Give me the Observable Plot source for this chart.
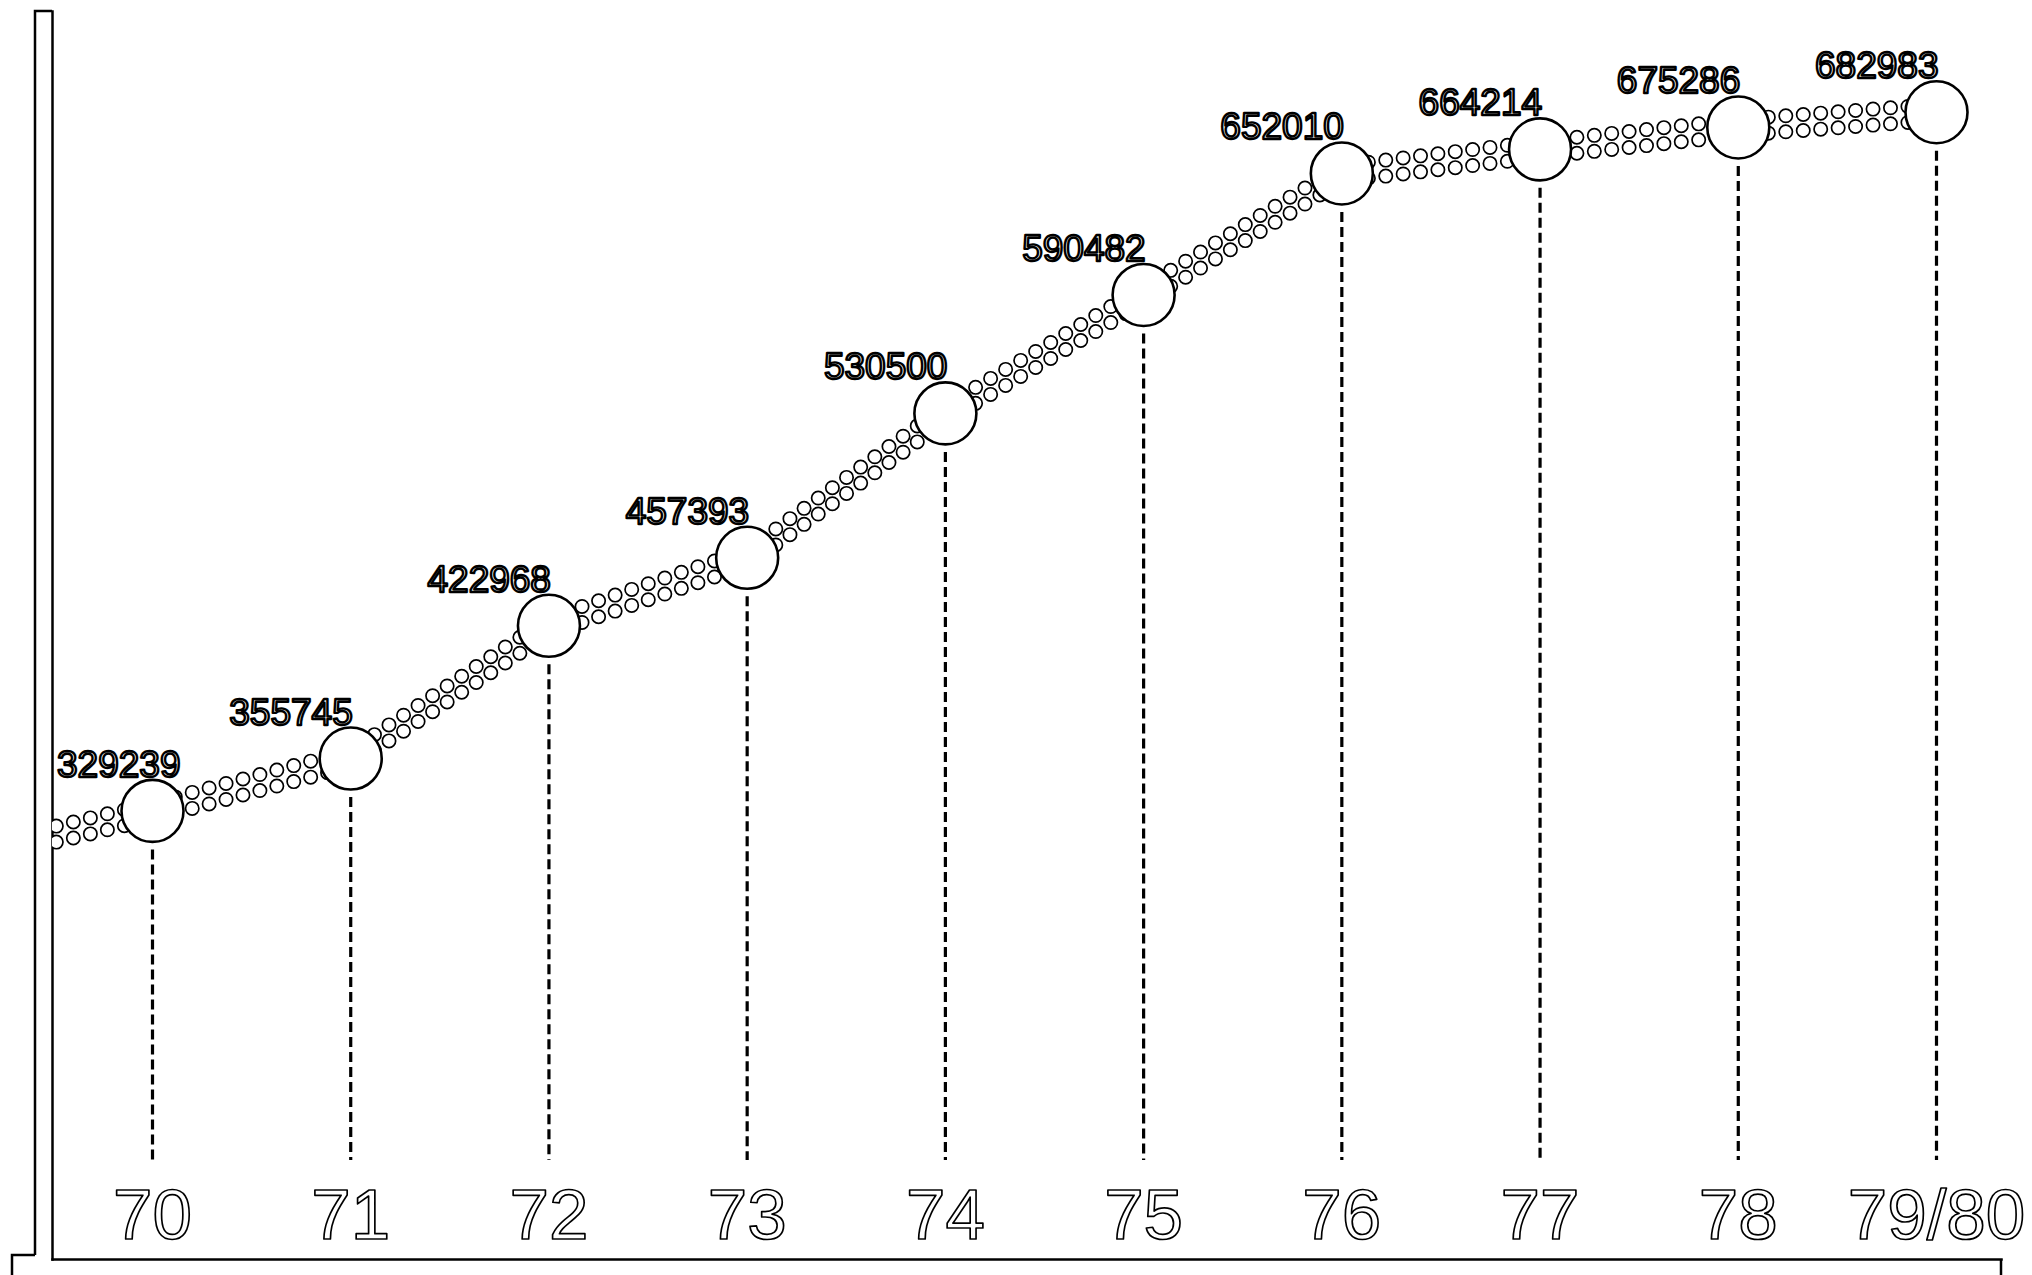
<!DOCTYPE html>
<html><head><meta charset="utf-8">
<script src="https://cdn.jsdelivr.net/npm/d3@7"></script>
<script src="https://cdn.jsdelivr.net/npm/@observablehq/plot@0.6"></script>
<style>html,body{margin:0;padding:0;background:#fff;} svg{display:block;}</style>
</head><body><div id="chart"></div>
<script>
const years = ["70","71","72","73","74","75","76","77","78","79/80"];
const values = [329239,355745,422968,457393,530500,590482,652010,664214,675286,682983];
// the dotted trend enters from the left frame edge (year before 70, cut off)
const leadInValue = 305000;
const yDomain = [102100, 734000];

const points = years.map((year, i) => ({i, year, value: values[i]}));
const trend = [{i: -1, value: leadInValue}, ...points];

const W = 2032, H = 1275;
const mL = 52, mR = 31, mT = 11, mB = 16;
const FONT = "Liberation Sans, Arial, Helvetica, sans-serif";

const ringRow = (dy, color, sw) => Plot.line(trend, {
  x: "i", y: "value", dy, stroke: color, strokeWidth: sw,
  strokeDasharray: "0 17.5", strokeLinecap: "round", clip: true
});

const plot = Plot.plot({
  width: W, height: H,
  marginLeft: mL, marginRight: mR, marginTop: mT, marginBottom: mB,
  x: {domain: [0, years.length - 1], range: [152, 1936], axis: null},
  y: {domain: yDomain, axis: null},
  style: {fontFamily: FONT, background: "white"},
  marks: [
    Plot.frame({anchor: "left", stroke: "black", strokeWidth: 2.5}),
    Plot.frame({anchor: "bottom", stroke: "black", strokeWidth: 2.5}),
    ringRow(-8, "black", 15),
    ringRow(-8, "white", 11.6),
    ringRow(8, "black", 15),
    ringRow(8, "white", 11.6),
    Plot.ruleX(points, {x: "i", y1: "value", y2: () => yDomain[0], insetTop: 39, insetBottom: 99,
      stroke: "black", strokeWidth: 3.2, strokeDasharray: "10,5"}),
    Plot.dot(points, {x: "i", y: "value", r: 31, fill: "white", stroke: "black", strokeWidth: 2.6}),
    Plot.text(points.slice(1), {x: "i", y: "value", text: d => String(d.value),
      textAnchor: "end", lineAnchor: "bottom", dx: 2, dy: -34, fontSize: 37,
      fill: "white", stroke: "black", strokeWidth: 2.4, paintOrder: "fill"}),
    Plot.text(points.slice(0, 1), {x: "i", y: "value", text: d => String(d.value),
      textAnchor: "end", lineAnchor: "bottom", dx: 28, dy: -34, fontSize: 37,
      fill: "white", stroke: "black", strokeWidth: 2.4, paintOrder: "fill"}),
    Plot.text(points, {x: "i", frameAnchor: "bottom", text: "year", lineAnchor: "bottom",
      dy: -21, fontSize: 71, fill: "white", stroke: "black", strokeWidth: 1.7, paintOrder: "fill"})
  ]
});

const svg = d3.select(plot).style("overflow", "visible");
const outerX = mL - 17;
svg.append("path")
  .attr("d", `M${outerX},${H - mB - 4} V${mT} H${mL} M${outerX},${H - mB - 4} H${outerX - 23} V${H}`)
  .attr("fill", "none").attr("stroke", "black").attr("stroke-width", 2.5);
svg.append("path")
  .attr("d", `M${W - mR},${H - mB} V${H}`)
  .attr("fill", "none").attr("stroke", "black").attr("stroke-width", 2.5);

document.getElementById("chart").appendChild(plot);
</script>
</body></html>
